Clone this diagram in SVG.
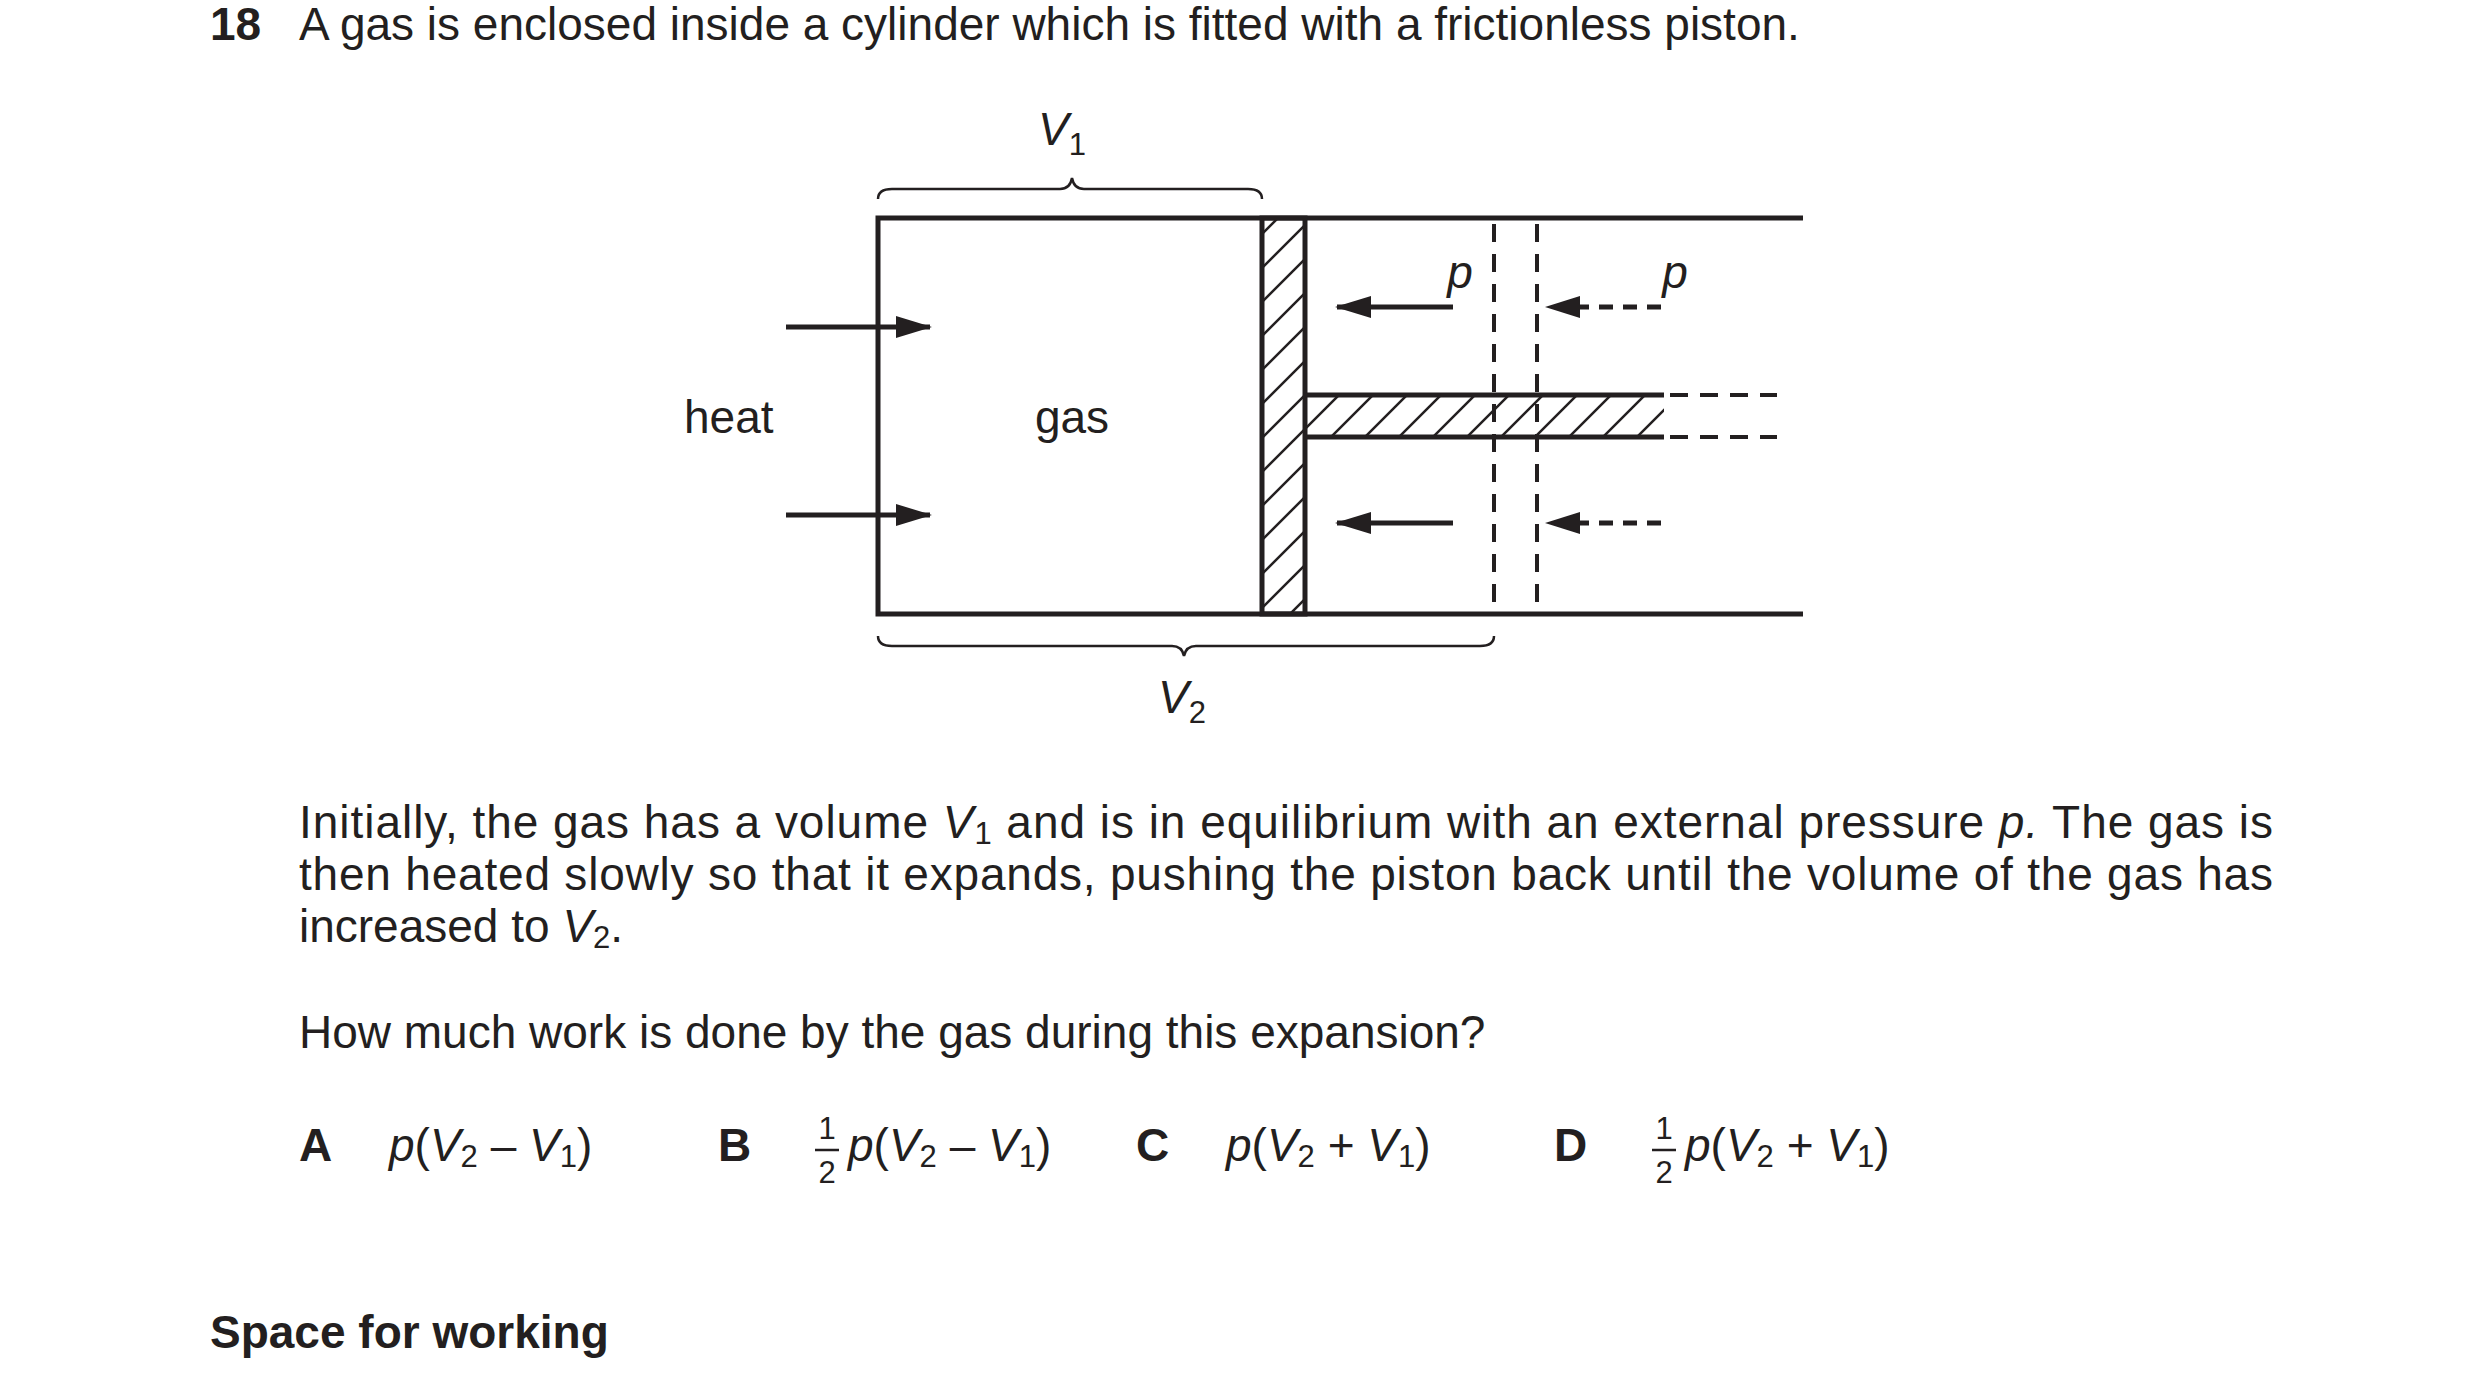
<svg xmlns="http://www.w3.org/2000/svg" width="2480" height="1396" viewBox="0 0 2480 1396">
<style>
text{font-family:"Liberation Sans",Arial,sans-serif;font-size:46px;fill:#231f20}
.b{font-weight:bold}
.i{font-style:italic}
.s{font-size:31px}
.ln{stroke:#231f20;stroke-width:5;fill:none}
.th{stroke:#231f20;stroke-width:2.5;fill:none}
.ds{stroke:#231f20;stroke-width:4;fill:none;stroke-dasharray:18 12}
</style>
<defs>
<pattern id="h" patternUnits="userSpaceOnUse" width="34" height="34">
<path d="M-2,36 L36,-2 M-9,9 L9,-9 M25,43 L43,25" stroke="#231f20" stroke-width="2.5"/>
</pattern>
<marker id="a" markerWidth="36" markerHeight="22" refX="34" refY="11" orient="auto" markerUnits="userSpaceOnUse">
<path d="M0,0 L36,11 L0,22 Z" fill="#231f20"/>
</marker>
</defs>
<text x="210" y="40" class="b">18</text>
<text x="299" y="40">A gas is enclosed inside a cylinder which is fitted with a frictionless piston.</text>
<g id="cylinder">
<path class="ln" d="M1803,218 H878 V614 H1803"/>
</g>
<g id="piston">
<rect x="1262" y="218" width="43" height="396" fill="url(#h)"/>
<rect x="1262" y="218" width="43" height="396" class="ln"/>
<rect x="1305" y="395" width="359" height="42" fill="url(#h)"/>
<path class="ln" d="M1305,395 H1664 M1305,437 H1664"/>
</g>
<g id="dashed-piston">
<path class="ds" d="M1494,224 V606 M1537,224 V606 M1670,395 H1777 M1670,437 H1777"/>
</g>
<g id="connectors">
<path class="ln" d="M786,327 H930" marker-end="url(#a)"/>
<path class="ln" d="M786,515 H930" marker-end="url(#a)"/>
<path class="ln" d="M1453,307 H1337" marker-end="url(#a)"/>
<path class="ln" d="M1453,523 H1337" marker-end="url(#a)"/>
<path class="ds" d="M1661,307 H1578" style="stroke-width:5;stroke-dasharray:14 10"/>
<path d="M1580,296 L1545,307 L1580,318 Z" fill="#231f20"/>
<path class="ds" d="M1661,523 H1578" style="stroke-width:5;stroke-dasharray:14 10"/>
<path d="M1580,512 L1545,523 L1580,534 Z" fill="#231f20"/>
</g>
<g id="braces">
<path class="th" d="M878,199 Q878,189 892,189 H1060 Q1070,189 1072,178 Q1074,189 1084,189 H1248 Q1262,189 1262,199"/>
<path class="th" d="M878,636 Q878,646 892,646 H1172 Q1182,646 1184,656 Q1186,646 1196,646 H1480 Q1494,646 1494,636"/>
</g>
<g id="labels">
<text x="684" y="433">heat</text>
<text x="1072" y="433" text-anchor="middle">gas</text>
<text x="1062" y="145" text-anchor="middle" class="i">V<tspan class="s" font-style="normal" dy="10">1</tspan></text>
<text x="1182" y="713" text-anchor="middle" class="i">V<tspan class="s" font-style="normal" dy="10">2</tspan></text>
<text x="1460" y="288" text-anchor="middle" class="i">p</text>
<text x="1675" y="288" text-anchor="middle" class="i">p</text>
</g>
<text x="299" y="838" textLength="1974" lengthAdjust="spacing">Initially, the gas has a volume <tspan class="i">V</tspan><tspan class="s" dy="6">1</tspan><tspan dy="-6"> and is in equilibrium with an external pressure </tspan><tspan class="i">p.</tspan> The gas is</text>
<text x="299" y="890" textLength="1974" lengthAdjust="spacing">then heated slowly so that it expands, pushing the piston back until the volume of the gas has</text>
<text x="299" y="942">increased to <tspan class="i">V</tspan><tspan class="s" dy="6">2</tspan><tspan dy="-6">.</tspan></text>
<text x="299" y="1048">How much work is done by the gas during this expansion?</text>
<g id="options">
<text x="299" y="1161" class="b">A</text>
<text x="389" y="1161"><tspan class="i">p</tspan>(<tspan class="i">V</tspan><tspan class="s" dy="6">2</tspan><tspan dy="-6"> – </tspan><tspan class="i">V</tspan><tspan class="s" dy="6">1</tspan><tspan dy="-6">)</tspan></text>
<text x="718" y="1161" class="b">B</text>
<text x="827" y="1139" class="s" text-anchor="middle">1</text>
<path d="M815,1150 H839" stroke="#231f20" stroke-width="2.5"/>
<text x="827" y="1183" class="s" text-anchor="middle">2</text>
<text x="848" y="1161"><tspan class="i">p</tspan>(<tspan class="i">V</tspan><tspan class="s" dy="6">2</tspan><tspan dy="-6"> – </tspan><tspan class="i">V</tspan><tspan class="s" dy="6">1</tspan><tspan dy="-6">)</tspan></text>
<text x="1136" y="1161" class="b">C</text>
<text x="1226" y="1161"><tspan class="i">p</tspan>(<tspan class="i">V</tspan><tspan class="s" dy="6">2</tspan><tspan dy="-6"> + </tspan><tspan class="i">V</tspan><tspan class="s" dy="6">1</tspan><tspan dy="-6">)</tspan></text>
<text x="1554" y="1161" class="b">D</text>
<text x="1664" y="1139" class="s" text-anchor="middle">1</text>
<path d="M1652,1150 H1676" stroke="#231f20" stroke-width="2.5"/>
<text x="1664" y="1183" class="s" text-anchor="middle">2</text>
<text x="1685" y="1161"><tspan class="i">p</tspan>(<tspan class="i">V</tspan><tspan class="s" dy="6">2</tspan><tspan dy="-6"> + </tspan><tspan class="i">V</tspan><tspan class="s" dy="6">1</tspan><tspan dy="-6">)</tspan></text>
</g>
<text x="210" y="1348" class="b">Space for working</text>
</svg>
